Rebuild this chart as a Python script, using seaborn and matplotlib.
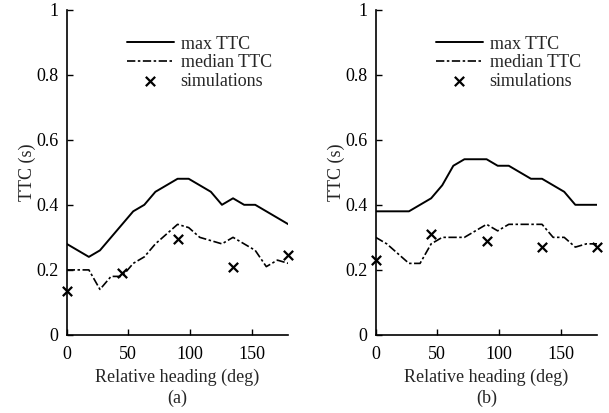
import numpy as np
import pandas as pd
import matplotlib
matplotlib.use("Agg")
import matplotlib.pyplot as plt
import seaborn as sns

heading = list(range(0, 181, 9))
max_a = [0.28, 0.26, 0.24, 0.26, 0.30, 0.34, 0.38, 0.40, 0.44, 0.46, 0.48,
         0.48, 0.46, 0.44, 0.40, 0.42, 0.40, 0.40, 0.38, 0.36, 0.34]
med_a = [0.20, 0.20, 0.20, 0.14, 0.18, 0.18, 0.22, 0.24, 0.28, 0.31, 0.34,
         0.33, 0.30, 0.29, 0.28, 0.30, 0.28, 0.26, 0.21, 0.23, 0.22]
max_b = [0.38, 0.38, 0.38, 0.38, 0.40, 0.42, 0.46, 0.52, 0.54, 0.54, 0.54,
         0.52, 0.52, 0.50, 0.48, 0.48, 0.46, 0.44, 0.40, 0.40, 0.40]
med_b = [0.30, 0.28, 0.25, 0.22, 0.22, 0.28, 0.30, 0.30, 0.30, 0.32, 0.34,
         0.32, 0.34, 0.34, 0.34, 0.34, 0.30, 0.30, 0.27, 0.28, 0.28]
sim_heading = [0, 45, 90, 135, 180]
sim_a = [0.135, 0.19, 0.295, 0.21, 0.245]
sim_b = [0.23, 0.31, 0.29, 0.27, 0.27]
panel_labels = ["(a)", "(b)"]
xticks = [0, 50, 100, 150]
yticks = [0, 0.2, 0.4, 0.6, 0.8, 1]
ytick_labels = ["0", "0.2", "0.4", "0.6", "0.8", "1"]

sns.set_style("ticks")
plt.rcParams["font.family"] = ["Liberation Serif", "DejaVu Serif"]
plt.rcParams["font.size"] = 13

fig = plt.figure(figsize=(6.09, 4.13), dpi=100)
axes = [fig.add_axes([0.1095, 0.1889, 0.3642, 0.788]),
        fig.add_axes([0.6169, 0.1889, 0.3642, 0.788])]

panels = [(max_a, med_a, sim_a), (max_b, med_b, sim_b)]
for ax, (mx, md, sm), lab in zip(axes, panels, panel_labels):
    df = pd.DataFrame({"heading": heading, "max": mx, "median": md})
    sdf = pd.DataFrame({"heading": sim_heading, "sim": sm})
    sns.lineplot(data=df, x="heading", y="max", ax=ax, color="black",
                 linewidth=1.4, label="max TTC")
    sns.lineplot(data=df, x="heading", y="median", ax=ax, color="black",
                 linewidth=1.2, label="median TTC")
    ax.lines[-1].set_dashes([5, 1.5, 1.5, 1.5])
    sns.scatterplot(data=sdf, x="heading", y="sim", ax=ax, marker="x",
                    color="black", s=45, linewidth=1.6, label="simulations",
                    clip_on=False, zorder=5)
    ax.set_xlim(0, 180)
    ax.set_ylim(0, 1)
    ax.set_xticks(xticks)
    ax.set_yticks(yticks)
    ax.set_yticklabels(ytick_labels)
    ax.tick_params(axis="x", direction="in", length=4, width=1, pad=8,
                   labelsize=13, colors="black")
    ax.tick_params(axis="y", direction="in", length=4, width=1, pad=6,
                   labelsize=13, colors="black")
    for s in ["top", "right"]:
        ax.spines[s].set_visible(False)
    for s in ["left", "bottom"]:
        ax.spines[s].set_linewidth(1.2)
        ax.spines[s].set_color("black")
    ax.set_xlabel("Relative heading (deg)", fontsize=13, labelpad=4)
    ax.set_ylabel("TTC (s)", fontsize=13, labelpad=0)
    ax.legend(loc="upper left", bbox_to_anchor=(0.27, 0.92), frameon=False,
              fontsize=13, handlelength=2.6, handletextpad=0.4,
              labelspacing=0.1, borderpad=0, borderaxespad=0)
    pos = ax.get_position()
    fig.text(pos.x0 + pos.width / 2, 0.036, lab, ha="center", va="center",
             fontsize=13)

fig.savefig("out.png", dpi=100)
